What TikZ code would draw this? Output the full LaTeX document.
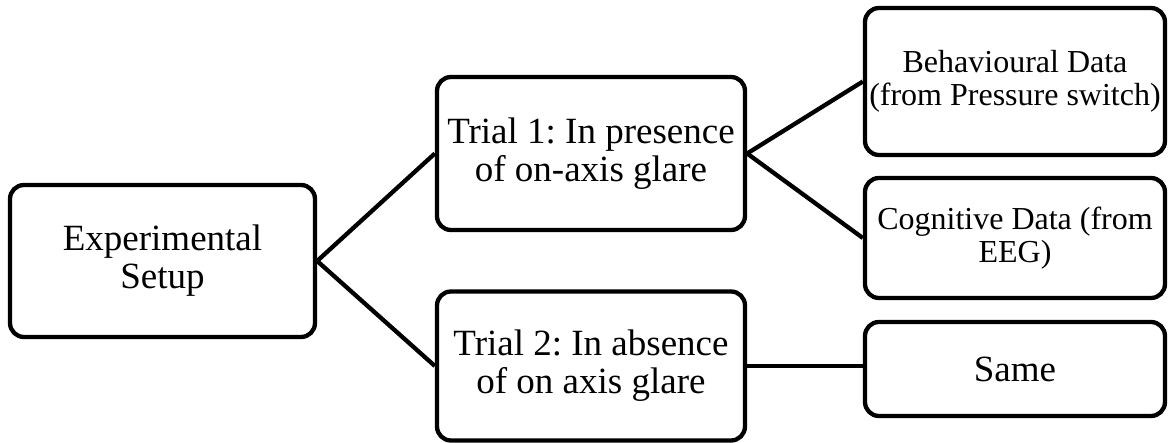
\documentclass[tikz,border=0pt]{standalone}
\usepackage{fontspec}
\setmainfont{Liberation Serif}
\frenchspacing
\begin{document}
\begin{tikzpicture}[x=1pt,y=-1pt,
  box/.style={draw=black, line width=4.3pt, rounded corners=14pt, fill=white,
    align=center, inner sep=0pt, font=\frenchspacing\fontsize{37}{38}\selectfont},
  smallbox/.style={box, font=\frenchspacing\fontsize{32}{33}\selectfont},
  link/.style={draw=black, line width=4.3pt}]
\useasboundingbox (0,0) rectangle (1168,443);
\node[box, minimum width=305pt, minimum height=152pt] (A) at (162.5,261) {Experimental\\Setup};
\node[box, minimum width=308pt, minimum height=153pt] (T1) at (591,153.5) {Trial 1: In presence\\of on-axis glare};
\node[box, minimum width=308pt, minimum height=149pt] (T2) at (591,366) {Trial 2: In absence\\of on axis glare};
\node[smallbox, minimum width=300pt, minimum height=147pt] (B1) at (1015,81.5) {Behavioural Data\\(from Pressure switch)};
\node[smallbox, minimum width=300pt, minimum height=120pt] (B2) at (1015,238) {Cognitive Data (from\\EEG)};
\node[box, minimum width=300pt, minimum height=94pt] (B3) at (1015,369) {Same};
\draw[link] (A.east) -- (T1.west);
\draw[link] (A.east) -- (T2.west);
\draw[link] (T1.east) -- (B1.west);
\draw[link] (T1.east) -- (B2.west);
\draw[link] (T2.east) -- (T2.east -| B3.west);
\end{tikzpicture}
\end{document}
